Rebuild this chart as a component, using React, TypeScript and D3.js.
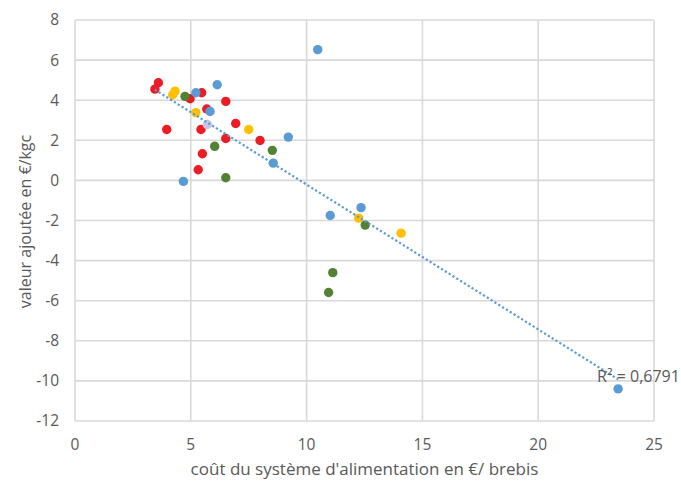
import React from 'react';
import * as d3 from 'd3';

// x: coût du système d'alimentation (€/brebis), y: valeur ajoutée (€/kgc)
const redX = [3.6, 3.45, 3.96, 4.97, 5.47, 6.51, 5.69, 5.44, 6.94, 6.51, 7.99, 5.5, 5.32];
const redY = [4.87, 4.55, 2.54, 4.07, 4.37, 3.94, 3.56, 2.54, 2.84, 2.09, 1.99, 1.33, 0.53];

const blueX = [6.14, 5.22, 5.83, 9.21, 8.56, 4.68, 10.48, 12.35, 11.02, 23.45];
const blueY = [4.77, 4.37, 3.44, 2.16, 0.86, -0.05, 6.52, -1.36, -1.75, -10.4];

const lavenderX = [5.71];
const lavenderY = [2.79];

const yellowX = [4.32, 4.22, 5.22, 7.5, 12.25, 14.08];
const yellowY = [4.45, 4.27, 3.38, 2.54, -1.88, -2.63];

const greenX = [4.75, 6.03, 8.52, 6.51, 12.53, 11.13, 10.95];
const greenY = [4.19, 1.7, 1.5, 0.13, -2.23, -4.6, -5.59];

const xTicks = [0, 5, 10, 15, 20, 25];
const yTicks = [8, 6, 4, 2, 0, -2, -4, -6, -8, -10, -12];

const r2Label = 'R² = 0,6791';
const xTitle = "coût du système d'alimentation en €/ brebis";
const yTitle = 'valeur ajoutée en €/kgc';

const series = [
  { name: 'rouge', xs: redX, ys: redY, color: '#ec1c24' },
  { name: 'bleu', xs: blueX, ys: blueY, color: '#5b9bd5' },
  { name: 'lavande', xs: lavenderX, ys: lavenderY, color: '#c9c4e4' },
  { name: 'jaune', xs: yellowX, ys: yellowY, color: '#ffc000' },
  { name: 'vert', xs: greenX, ys: greenY, color: '#548235' },
];

const W = 681;
const H = 481;
const margin = { top: 20, right: 27, bottom: 60, left: 75 };
const font = '"Open Sans", "Noto Sans", sans-serif';
const textColor = '#595959';
const gridColor = '#d9d9d9';

export default function App() {
  const innerW = W - margin.left - margin.right;
  const innerH = H - margin.top - margin.bottom;

  const x = d3.scaleLinear().domain([0, 25]).range([0, innerW]);
  const y = d3.scaleLinear().domain([-12, 8]).range([innerH, 0]);

  // linear trendline over every point
  const pts = series.flatMap((s) => s.xs.map((v, i) => [v, s.ys[i]] as [number, number]));
  const mx = d3.mean(pts, (p) => p[0]) as number;
  const my = d3.mean(pts, (p) => p[1]) as number;
  const sxy = d3.sum(pts, (p) => (p[0] - mx) * (p[1] - my));
  const sxx = d3.sum(pts, (p) => (p[0] - mx) ** 2);
  const slope = sxy / sxx;
  const icpt = my - slope * mx;
  const [x0, x1] = d3.extent(pts, (p) => p[0]) as [number, number];
  const trend = d3
    .line<number>()
    .x((d) => x(d))
    .y((d) => y(icpt + slope * d))([x0, x1]);

  return (
    <svg
      width={W}
      height={H}
      style={{ position: 'absolute', left: 0, top: 0, background: '#fff' }}
      fontFamily={font}
    >
      <g transform={`translate(${margin.left},${margin.top})`}>
        {/* grid */}
        {yTicks.map((t) => (
          <line key={'gy' + t} x1={0} x2={innerW} y1={y(t)} y2={y(t)} stroke={gridColor} strokeWidth={1.6} />
        ))}
        {xTicks.map((t) => (
          <line key={'gx' + t} x1={x(t)} x2={x(t)} y1={0} y2={innerH} stroke={gridColor} strokeWidth={1.6} />
        ))}

        {/* tick labels */}
        {yTicks.map((t) => (
          <text key={'ty' + t} x={-16} y={y(t)} dy="0.35em" textAnchor="end" fontSize={15.5} fill={textColor}>
            {t}
          </text>
        ))}
        {xTicks.map((t) => (
          <text key={'tx' + t} x={x(t)} y={innerH + 24} dy="0.35em" textAnchor="middle" fontSize={15.5} fill={textColor}>
            {t}
          </text>
        ))}

        {/* points */}
        {series.map((s) =>
          s.xs.map((v, i) => (
            <circle key={s.name + i} cx={x(v)} cy={y(s.ys[i])} r={4.7} fill={s.color} />
          ))
        )}

        {/* trendline */}
        <path d={trend ?? ''} fill="none" stroke="#5b9bd5" strokeWidth={2.2} strokeDasharray="2.2 2.3" />
        <text x={x(x1) - 21} y={y(icpt + slope * x1) + 3} fontSize={16} fill={textColor}>
          {r2Label}
        </text>

        {/* axis titles */}
        <text x={innerW / 2 + 0} y={innerH + 54} textAnchor="middle" fontSize={17} fill={textColor}>
          {xTitle}
        </text>
        <text
          transform={`translate(${-50},${innerH / 2 + 1}) rotate(-90)`}
          textAnchor="middle"
          dy="0.35em"
          fontSize={16}
          fill={textColor}
        >
          {yTitle}
        </text>
      </g>
    </svg>
  );
}
